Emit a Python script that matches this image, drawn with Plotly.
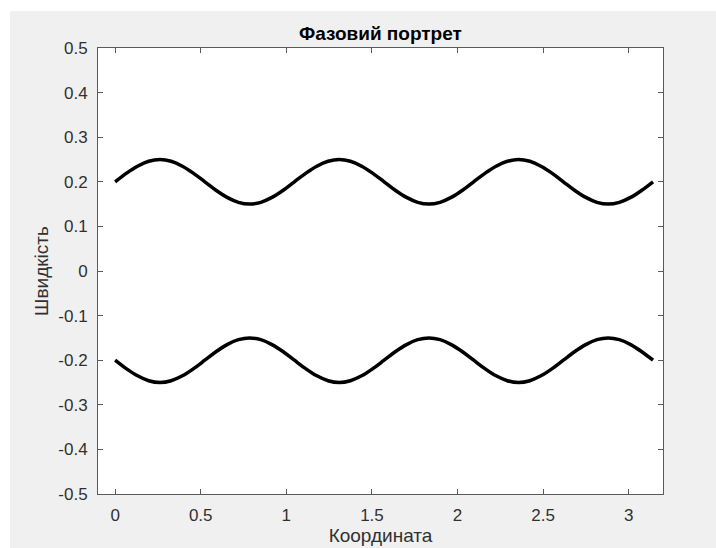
import plotly.graph_objects as go

# Координата (x) samples over [0, pi]
coord = [0.000, 0.065, 0.131, 0.196, 0.262, 0.327, 0.393, 0.458,
         0.524, 0.589, 0.654, 0.720, 0.785, 0.851, 0.916, 0.982,
         1.047, 1.113, 1.178, 1.244, 1.309, 1.374, 1.440, 1.505,
         1.571, 1.636, 1.702, 1.767, 1.833, 1.898, 1.963, 2.029,
         2.094, 2.160, 2.225, 2.291, 2.356, 2.422, 2.487, 2.553,
         2.618, 2.683, 2.749, 2.814, 2.880, 2.945, 3.011, 3.076, 3.142]

# Швидкість, upper branch
vel_upper = [0.200, 0.219, 0.235, 0.246, 0.250, 0.246, 0.235, 0.219,
             0.200, 0.181, 0.165, 0.154, 0.150, 0.154, 0.165, 0.181,
             0.200, 0.219, 0.235, 0.246, 0.250, 0.246, 0.235, 0.219,
             0.200, 0.181, 0.165, 0.154, 0.150, 0.154, 0.165, 0.181,
             0.200, 0.219, 0.235, 0.246, 0.250, 0.246, 0.235, 0.219,
             0.200, 0.181, 0.165, 0.154, 0.150, 0.154, 0.165, 0.181, 0.200]

# Швидкість, lower branch
vel_lower = [-0.200, -0.219, -0.235, -0.246, -0.250, -0.246, -0.235, -0.219,
             -0.200, -0.181, -0.165, -0.154, -0.150, -0.154, -0.165, -0.181,
             -0.200, -0.219, -0.235, -0.246, -0.250, -0.246, -0.235, -0.219,
             -0.200, -0.181, -0.165, -0.154, -0.150, -0.154, -0.165, -0.181,
             -0.200, -0.219, -0.235, -0.246, -0.250, -0.246, -0.235, -0.219,
             -0.200, -0.181, -0.165, -0.154, -0.150, -0.154, -0.165, -0.181, -0.200]

x_ticks = [0, 0.5, 1, 1.5, 2, 2.5, 3]
x_tick_text = ["0", "0.5", "1", "1.5", "2", "2.5", "3"]
y_ticks = [0.5, 0.4, 0.3, 0.2, 0.1, 0, -0.1, -0.2, -0.3, -0.4, -0.5]
y_tick_text = ["0.5", "0.4", "0.3", "0.2", "0.1", "0", "-0.1", "-0.2", "-0.3", "-0.4", "-0.5"]

FONT = "Liberation Sans, Arial, Helvetica, sans-serif"
AX_COLOR = "#5a5a5a"
TXT_COLOR = "#303030"

fig = go.Figure()
for vals in (vel_upper, vel_lower):
    fig.add_trace(go.Scatter(
        x=coord, y=vals, mode="lines",
        line=dict(color="black", width=3.5, shape="spline", smoothing=1.0),
        showlegend=False, hoverinfo="skip",
    ))

axis_common = dict(
    showline=True, linecolor=AX_COLOR, linewidth=1, mirror="allticks",
    ticks="inside", ticklen=5, tickwidth=1, tickcolor=AX_COLOR,
    showgrid=False, zeroline=False, automargin=False,
    tickfont=dict(family=FONT, size=17, color=TXT_COLOR),
)

fig.update_xaxes(
    range=[-0.1, 3.2], tickvals=x_ticks, ticktext=x_tick_text,
    ticklabelstandoff=6,
    title=dict(text="Координата", font=dict(family=FONT, size=19, color=TXT_COLOR), standoff=4),
    **axis_common,
)
fig.update_yaxes(
    range=[-0.5, 0.5], tickvals=y_ticks, ticktext=y_tick_text,
    ticklabelstandoff=6,
    title=dict(text="Швидкість", font=dict(family=FONT, size=19, color=TXT_COLOR), standoff=4),
    **axis_common,
)

fig.update_layout(
    width=716, height=548,
    margin=dict(l=98, r=53, t=48, b=54, autoexpand=False),
    paper_bgcolor="#f0f0f0", plot_bgcolor="white",
    title=dict(text="<b>Фазовий портрет</b>", x=0.5313, xanchor="center",
               y=1 - 33 / 548, yanchor="middle", automargin=False,
               font=dict(family=FONT, size=19, color="black")),
    shapes=[
        # white strips along the top and left edges of the figure
        dict(type="rect", xref="paper", yref="paper",
             x0=-98 / 446 * 446 / 565, x1=(716 - 98) / 565, y0=1 + 37 / 446, y1=1 + 48 / 446,
             fillcolor="white", line=dict(width=0), layer="above"),
        dict(type="rect", xref="paper", yref="paper",
             x0=-98 / 565, x1=-88 / 565, y0=-54 / 446, y1=1 + 48 / 446,
             fillcolor="white", line=dict(width=0), layer="above"),
    ],
)

fig.write_html("out.html")
